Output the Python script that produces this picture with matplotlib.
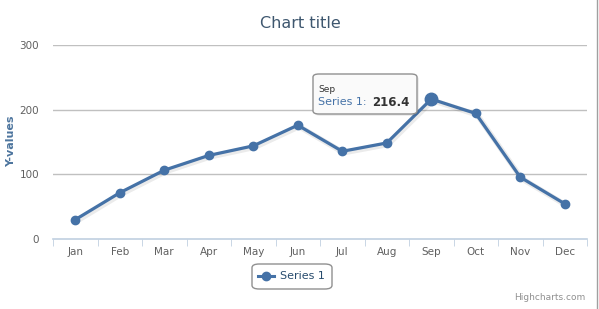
import matplotlib.pyplot as plt
import matplotlib.patheffects as pe
from matplotlib.patches import FancyBboxPatch

# Chart data
months = ["Jan", "Feb", "Mar", "Apr", "May", "Jun", "Jul", "Aug", "Sep", "Oct", "Nov", "Dec"]
series1 = [29.9, 71.5, 106.4, 129.2, 144.0, 176.0, 135.6, 148.5, 216.4, 194.1, 95.6, 54.4]
y_ticks = [0, 100, 200, 300]
hover_index = 8

W, H = 599, 309
fig = plt.figure(figsize=(W / 100, H / 100), dpi=100)
plt.rcParams['font.family'] = ['DejaVu Sans']

left, right, top, bottom = 53, 587, 45, 239
ax = fig.add_axes([left / W, 1 - bottom / H, (right - left) / W, (bottom - top) / H])

x = list(range(len(months)))
color = "#4572A7"
shadow = [pe.SimpleLineShadow(offset=(1, -1), shadow_color="black", alpha=0.08, linewidth=4), pe.Normal()]
ax.plot(x, series1, color=color, lw=2.3, zorder=3, path_effects=shadow, solid_joinstyle="round")
ax.plot(x, series1, "o", color=color, ms=6, zorder=4)
ax.plot(x[hover_index], series1[hover_index], "o", color=color, ms=9, zorder=5)

ax.set_xlim(-0.5, len(months) - 0.5)
ax.set_ylim(0, 300)
ax.set_yticks(y_ticks)
ax.set_yticklabels([str(t) for t in y_ticks], color="#606060", fontsize=7.5)
ax.set_xticks(x)
ax.set_xticklabels(months, color="#606060", fontsize=7.5)
ax.set_xticks([i - 0.5 for i in range(len(months) + 1)], minor=True)
ax.tick_params(axis="x", which="major", length=0, pad=6)
ax.tick_params(axis="x", which="minor", length=5, color="#C0D0E0", direction="out")
ax.tick_params(axis="y", length=0, pad=10)
for t in y_ticks[1:]:
    ax.axhline(t, color="#C0C0C0", lw=1, zorder=1)
for s in ["top", "right", "left"]:
    ax.spines[s].set_visible(False)
ax.spines["bottom"].set_color("#C0D0E0")
ax.spines["bottom"].set_linewidth(1.2)

fig.text(300 / W, 1 - 23 / H, "Chart title", ha="center", va="center", fontsize=11.5, color="#3E576F")
fig.text(11 / W, 1 - 141 / H, "Y-values", ha="center", va="center", rotation=90,
         fontsize=8, color="#4D759E", fontweight="bold")

# legend box
fig.patches.append(FancyBboxPatch((252 / W, 1 - 289 / H), 80 / W, 25 / H,
                                  boxstyle="round,pad=0,rounding_size=0.012",
                                  transform=fig.transFigure, fc="white", ec="#909090", lw=1))
fig.lines.append(plt.Line2D([258 / W, 274 / W], [1 - 276 / H] * 2, transform=fig.transFigure,
                            color=color, lw=2.2))
fig.lines.append(plt.Line2D([266 / W], [1 - 276 / H], transform=fig.transFigure,
                            color=color, marker="o", ms=6, lw=0))
fig.text(280 / W, 1 - 276 / H, "Series 1", ha="left", va="center", fontsize=8, color="#274B6D")

fig.text(585 / W, 1 - 297 / H, "Highcharts.com", ha="right", va="center", fontsize=6.5, color="#909090")
fig.lines.append(plt.Line2D([597 / W] * 2, [0, 1], transform=fig.transFigure, color="#A0A0A0", lw=1))

# tooltip
fig.patches.append(FancyBboxPatch((315 / W, 1 - 116 / H), 104 / W, 40 / H,
                                  boxstyle="round,pad=0,rounding_size=0.01",
                                  transform=fig.transFigure, fc="#000000", ec="none", alpha=0.07))
fig.patches.append(FancyBboxPatch((313 / W, 1 - 114 / H), 104 / W, 40 / H,
                                  boxstyle="round,pad=0,rounding_size=0.01",
                                  transform=fig.transFigure, fc="#FAFAFA", ec="#909090", lw=1))
fig.text(318 / W, 1 - 89 / H, months[hover_index], ha="left", va="center", fontsize=6.5, color="#333333")
fig.text(318 / W, 1 - 102 / H, "Series 1: ", ha="left", va="center", fontsize=8, color=color)
fig.text(372 / W, 1 - 102 / H, f"{series1[hover_index]}", ha="left", va="center",
         fontsize=8.5, fontweight="bold", color="#333333")

fig.savefig("out.png", dpi=100)
